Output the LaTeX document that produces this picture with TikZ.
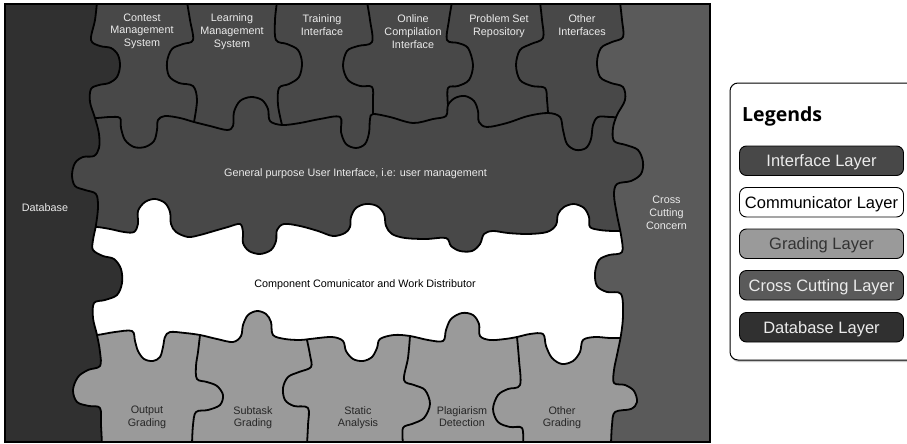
\documentclass[tikz,border=0pt]{standalone}
\usepackage{fontspec}
\setmainfont{Liberation Sans}
\newfontfamily\lgdfont{Open Sans}
\definecolor{ifc}{HTML}{484848}
\definecolor{dbc}{HTML}{303030}
\definecolor{ccc}{HTML}{5A5A5A}
\definecolor{grd}{HTML}{9A9A9A}
\newcommand\pzDB{-- plot[smooth,tension=.55] coordinates {(97,2) (95,20) (91,40) (100,46) (111,48) (118,55) (120,66) (117,77) (109,83) (99,85) (91,89) (90,102) (95,118) (99,134) (99,148) (94,156) (83,157) (75,163) (72,175) (75,186) (85,190) (96,194) (98,207) (96,225) (93,240) (93,250) (103,256) (114,259) (121,269) (122,283) (117,295) (105,300) (94,303) (93,318) (97,335) (100,352) (100,366) (88,370) (78,377) (73,390) (77,402) (89,406) (100,408) (101,425) (102,444)}}
\newcommand\pzCC{-- plot[smooth,tension=.55] coordinates {(620,2) (622,20) (623,37) (612,42) (601,48) (597,62) (600,77) (611,83) (623,87) (625,100) (617,115) (613,128) (614,141) (626,145) (638,150) (643,162) (641,174) (631,181) (617,184) (614,195) (617,215) (621,235) (622,252) (609,255) (599,260) (595,273) (597,286) (607,292) (621,294) (623,315) (621,335) (617,355) (614,370) (614,383) (625,385) (634,391) (637,402) (631,409) (615,412) (612,425) (611,444)}}
\newcommand\pzBandTop{-- plot[smooth,tension=.55] coordinates {(85,118) (97,118) (110,117) (120,118) (121,128) (125,140) (134,147) (145,147) (154,141) (157,130) (158,120) (165,116) (180,118) (194,122) (210,126) (227,130) (233,126) (234,112) (240,101) (251,97) (262,100) (268,109) (270,121) (282,125) (300,123) (320,119) (340,117) (341,132) (346,144) (356,148) (365,144) (369,133) (370,119) (373,114) (390,117) (413,123) (433,119) (446,116) (448,105) (455,98) (465,96) (474,101) (478,111) (479,122) (487,127) (507,123) (528,116) (548,113) (560,117) (563,130) (567,144) (576,150) (586,148) (591,139) (593,125) (598,117) (610,117) (630,118)}}
\newcommand\pzBandBot{-- plot[smooth,tension=.55] coordinates {(85,227) (97,227) (110,229) (124,232) (134,232) (138,224) (138,211) (145,202) (155,199) (165,203) (170,212) (171,224) (176,232) (188,237) (200,235) (214,231) (228,227) (240,224) (243,232) (243,243) (249,251) (260,254) (271,250) (276,241) (277,230) (284,224) (300,226) (318,231) (333,236) (345,233) (350,227) (351,217) (356,208) (366,204) (377,206) (384,214) (386,226) (392,234) (405,238) (426,239) (446,238) (451,246) (460,251) (472,251) (480,244) (484,234) (493,231) (508,233) (528,234) (547,232) (556,225) (558,214) (564,207) (574,204) (584,208) (589,217) (590,227) (600,230) (613,231) (632,231)}}
\newcommand\pzGradTop{-- plot[smooth,tension=.55] coordinates {(85,335) (97,335) (115,332) (132,331) (135,341) (138,351) (144,359) (153,361) (160,357) (163,347) (165,337) (170,332) (185,333) (200,335) (217,339) (233,342) (241,336) (243,325) (248,315) (257,311) (266,314) (271,322) (273,335) (285,339) (300,340) (310,339) (332,337) (343,341) (346,351) (353,359) (363,361) (372,357) (377,348) (380,339) (394,335) (410,336) (428,340) (443,341) (446,330) (451,319) (462,313) (473,315) (479,324) (480,336) (490,340) (505,339) (517,337) (530,334) (543,334) (546,346) (552,358) (562,364) (573,361) (580,352) (583,340) (595,337) (610,338) (630,338)}}
\tikzset{
  pzline/.style={draw=black, line width=1.8pt, line join=round, line cap=round},
  toplbl/.style={font=\fontsize{10.8}{12.9}\selectfont, text=white!92!black, align=center, inner sep=0pt, anchor=north},
  grdlbl/.style={font=\fontsize{10.8}{12.9}\selectfont, text=black!85, align=center, inner sep=0pt, anchor=north},
  lgitem/.style={draw=black, line width=0.9pt, rounded corners=7pt, minimum width=164pt, minimum height=29.5pt, inner sep=0pt, text height=11.8pt, text depth=0pt, font=\fontsize{16.5}{18}\selectfont}
}
\begin{document}
\begin{tikzpicture}[x=1pt,y=-1pt]
\useasboundingbox (0,0) rectangle (907,444);
\begin{scope}
  \clip (5,4) rectangle (710,442);
  \fill[ifc] (5,4) rectangle (710,442);
  \fill[white] (5,227) \pzBandBot -- (710,231) -- (710,442) -- (5,442) -- cycle;
  \fill[grd] (5,335) \pzGradTop -- (710,338) -- (710,442) -- (5,442) -- cycle;
  \draw[pzline] (85,118) \pzBandTop;
  \draw[pzline] (85,227) \pzBandBot;
  \draw[pzline] (85,335) \pzGradTop;
  % top row piece borders
  \draw[pzline] plot[smooth,tension=.55] coordinates {(187,2) (190,20) (193,40) (183,44) (172,49) (167,62) (169,76) (179,83) (193,86) (197,100) (194,122)};
  \draw[pzline] plot[smooth,tension=.55] coordinates {(277,2) (275,20) (276,40) (287,44) (298,50) (302,63) (299,77) (289,84) (279,88) (278,105) (282,125)};
  \draw[pzline] plot[smooth,tension=.55] coordinates {(367,2) (370,20) (372,42) (358,46) (347,51) (343,66) (348,80) (360,86) (372,87) (373,100) (373,114)};
  \draw[pzline] plot[smooth,tension=.55] coordinates {(452,2) (449,20) (447,40) (458,43) (468,48) (473,65) (469,80) (458,86) (448,88) (448,105)};
  \draw[pzline] plot[smooth,tension=.55] coordinates {(540,2) (542,20) (543,38) (531,44) (520,50) (516,65) (520,80) (532,86) (545,88) (547,100) (548,113)};
  % grading row piece borders
  \draw[pzline] plot[smooth,tension=.55] coordinates {(200,335) (198,352) (196,366) (197,379) (207,382) (217,386) (223,395) (220,405) (208,410) (196,412) (193,425) (192,444)};
  \draw[pzline] plot[smooth,tension=.55] coordinates {(307,340) (310,355) (311,367) (299,372) (288,377) (283,388) (285,400) (294,406) (308,408) (308,425) (307,444)};
  \draw[pzline] plot[smooth,tension=.55] coordinates {(410,336) (408,358) (404,380) (414,385) (425,390) (430,404) (424,418) (412,424) (403,428) (403,444)};
  \draw[pzline] plot[smooth,tension=.55] coordinates {(517,337) (519,360) (520,385) (508,389) (498,395) (493,409) (498,422) (510,427) (522,428) (523,444)};
  % database and cross cutting
  \fill[dbc] (0,0) \pzDB -- (0,444) -- cycle;
  \draw[pzline] (97,2) \pzDB;
  \fill[ccc] (720,0) \pzCC -- (720,444) -- cycle;
  \draw[pzline] (620,2) \pzCC;
\end{scope}
\draw[line width=2.6pt] (5,4) rectangle (710,442);

% labels
\node[toplbl] (t1) at (142,13.3) {Contest\\Management\\System};
\node[toplbl] (t2) at (232,13.3) {Learning\\Management\\System};
\node[toplbl] (t3) at (322,14.5) {Training\\Interface};
\node[toplbl] (t4) at (413,14.5) {Online\\Compilation\\Interface};
\node[toplbl] (t5) at (499,14.5) {Problem Set\\Repository};
\node[toplbl] (t6) at (582,14.5) {Other\\Interfaces};
\node[font=\fontsize{10.8}{12.9}\selectfont, text=white!92!black, inner sep=0pt, anchor=base] (band) at (355.5,176) {General purpose User Interface, i.e: user management};
\node[font=\fontsize{10.8}{12.9}\selectfont, text=black, inner sep=0pt, anchor=base] (comm) at (365,287) {Component Comunicator and Work Distributor};
\node[font=\fontsize{10.8}{12.9}\selectfont, text=white!92!black, inner sep=0pt, anchor=base] (db) at (45,211) {Database};
\node[toplbl] (cc) at (666.5,196) {Cross\\Cutting\\Concern};
\node[grdlbl] (g1) at (147,406) {Output\\Grading};
\node[grdlbl] (g2) at (253,406) {Subtask\\Grading};
\node[grdlbl] (g3) at (358,406) {Static\\Analysis};
\node[grdlbl] (g4) at (462,406) {Plagiarism\\Detection};
\node[grdlbl] (g5) at (562,406) {Other\\Grading};

% legend
\begin{scope}
  \clip (0,0) rectangle (907,444);
  \fill[black!22, rounded corners=8pt] (731,86) rectangle (926,362);
  \draw[fill=white, rounded corners=8pt, line width=1pt] (730,83) rectangle (925,360);
\end{scope}
\node[font=\lgdfont\bfseries\fontsize{19.5}{22}\selectfont, inner sep=0pt, anchor=base west] (lgt) at (742,121.7) {Legends};
\node[lgitem, fill=ifc, text=white!92!black] (l1) at (821.5,160.75) {Interface Layer};
\node[lgitem, fill=white, text=black] (l2) at (821.5,202.25) {Communicator Layer};
\node[lgitem, fill=grd, text=black!80] (l3) at (821.5,243.75) {Grading Layer};
\node[lgitem, fill=ccc, text=white!92!black] (l4) at (821.5,285.25) {Cross Cutting Layer};
\node[lgitem, fill=dbc, text=white!92!black] (l5) at (821.5,327.25) {Database Layer};
\end{tikzpicture}
\end{document}
